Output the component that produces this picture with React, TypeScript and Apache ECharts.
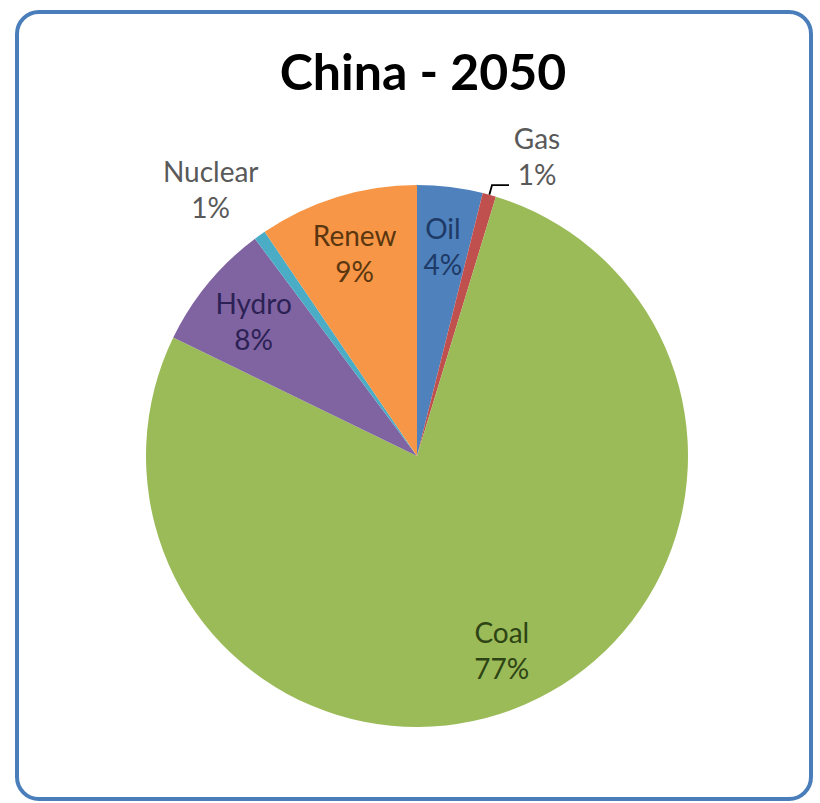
import React, { useEffect, useRef } from "react";
import * as echarts from "echarts";

const categories = ["Oil", "Gas", "Coal", "Hydro", "Nuclear", "Renew"];
const shares = [3.9, 0.8, 77.5, 7.6, 0.7, 9.5];
const sliceColors = ["#4F81BD", "#C0504D", "#9BBB59", "#8064A2", "#4BACC6", "#F79646"];
const labelColors = ["#1E3A66", "#595959", "#2E4414", "#2C2154", "#595959", "#5A3610"];
const outsideLabels = ["Gas", "Nuclear"];
const titleText = "China - 2050";

export default function App() {
  const ref = useRef<HTMLDivElement>(null);
  useEffect(() => {
    if (!ref.current) return;
    const chart = echarts.init(ref.current, undefined, { renderer: "svg" });
    const font = "Lato, 'Open Sans', sans-serif";
    const baseData = categories.map((name, i) => ({
      name,
      value: shares[i],
      itemStyle: { color: sliceColors[i] },
    }));
    const labelData = categories.map((name, i) => {
      const outside = outsideLabels.includes(name);
      const isGas = name === "Gas";
      return {
        name,
        value: shares[i],
        label: outside
          ? {
              position: "outside",
              formatter: "{c|{b}}\n{c|{d}%}",
              padding: isGas ? [0, 0, 58, 0] : [0, 0, 0, 0],
              distanceToLabelLine: isGas ? 3 : 4,
              rich: {
                c: {
                  width: isGas ? 50 : 100,
                  align: "center",
                  color: labelColors[i],
                  fontFamily: font,
                  fontSize: 28,
                  lineHeight: 36,
                },
              },
            }
          : { position: "inside", color: labelColors[i] },
        labelLine: outside
          ? isGas
            ? { show: true, length: 10, length2: 17, lineStyle: { color: "#000", width: 1.8 } }
            : { show: false, length: 57, length2: -38 }
          : { show: false },
      };
    });
    chart.setOption({
      animation: false,
      backgroundColor: "#ffffff",
      title: {
        text: titleText,
        left: 418,
        top: 41,
        textAlign: "center",
        textStyle: { fontFamily: font, fontSize: 50, fontWeight: "bold", color: "#000" },
      },
      graphic: [
        {
          type: "rect",
          z: -10,
          shape: { x: 17, y: 12, width: 794, height: 787, r: 22 },
          style: { fill: "#ffffff", stroke: "#4A7EBB", lineWidth: 4 },
        },
      ],
      series: [
        {
          type: "pie",
          center: [417, 456],
          radius: [0, 271],
          startAngle: 90,
          clockwise: true,
          silent: true,
          label: { show: false },
          labelLine: { show: false },
          itemStyle: { borderWidth: 0 },
          data: baseData,
        },
        {
          type: "pie",
          center: [417, 456],
          radius: [147, 271],
          startAngle: 90,
          clockwise: true,
          silent: true,
          avoidLabelOverlap: false,
          percentPrecision: 0,
          itemStyle: { color: "rgba(0,0,0,0)", borderWidth: 0 },
          label: {
            show: true,
            formatter: "{b}\n{d}%",
            fontFamily: font,
            fontSize: 28,
            lineHeight: 36,
          },
          data: labelData,
        },
      ],
    });
    return () => chart.dispose();
  }, []);
  return (
    <div
      ref={ref}
      style={{ position: "fixed", left: 0, top: 0, width: 820, height: 803 }}
    />
  );
}
